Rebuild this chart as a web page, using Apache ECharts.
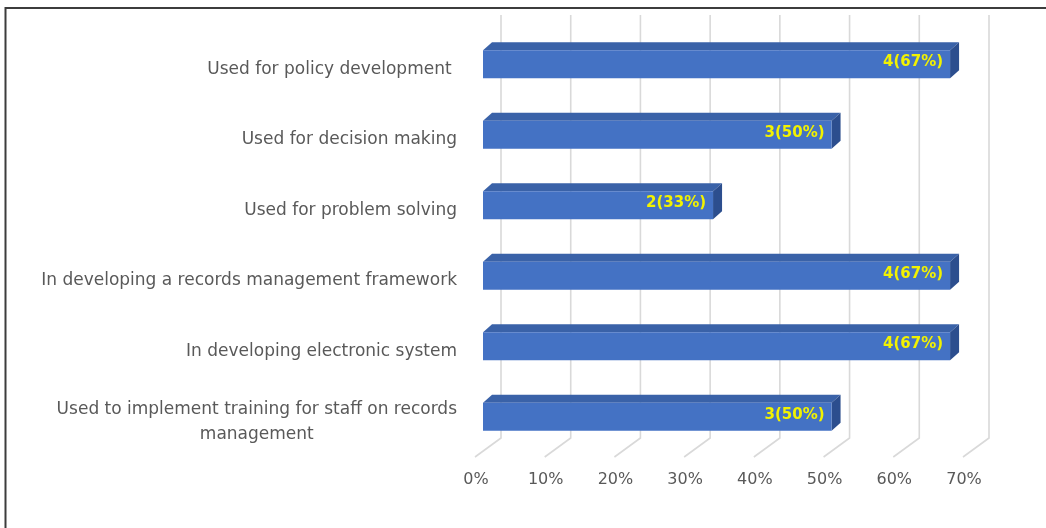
<!DOCTYPE html>
<html>
<head>
<meta charset="utf-8">
<script src="https://cdn.jsdelivr.net/npm/echarts@6/dist/echarts.min.js"></script>
<style>
  html, body { margin: 0; padding: 0; background: #ffffff; }
  #chart { width: 1046px; height: 528px; }
</style>
</head>
<body>
<div id="chart"></div>
<script>
// Uses of records (3D horizontal bars)
const categories = [
  'Used for policy development ',
  'Used for decision making',
  'Used for problem solving',
  'In developing a records management framework',
  'In developing electronic system',
  'Used to implement training for staff on records\nmanagement'
];
const counts = [4, 3, 2, 4, 4, 3];
const percents = [67, 50, 33, 67, 67, 50];
const ticks = [0, 10, 20, 30, 40, 50, 60, 70];

const TEXT_GREY = '#595959';
const GRID_GREY = '#D9D9D9';
const FRONT = '#4472C4';
const TOP = '#3A62A8';
const SIDE = '#2C4E8E';
const LABEL = '#F2F200';

// oblique projection: bars sit in the middle of the floor depth
const FRONT_DX = -18, FRONT_DY = 14;   // back wall -> bar front face
const DEPTH_DX = 9, DEPTH_DY = -8;     // bar front face -> bar back face
const FLOOR_DX = -26, FLOOR_DY = 19;   // back wall -> floor front edge

const chart = echarts.init(document.getElementById('chart'), null, { renderer: 'canvas' });

function renderGridLine(params, api) {
  const x = api.coord([api.value(0), 0])[0];
  const top = params.coordSys.y;
  const bottom = params.coordSys.y + params.coordSys.height;
  return {
    type: 'polyline',
    shape: { points: [[x, top], [x, bottom], [x + FLOOR_DX, bottom + FLOOR_DY]] },
    style: { stroke: GRID_GREY, lineWidth: 1.6, fill: null }
  };
}

function renderBar(params, api) {
  const v = api.value(0);
  const i = api.value(1);
  const p0 = api.coord([0, i]);
  const p1 = api.coord([v, i]);
  const band = api.size([0, 1])[1];
  const h = band * 0.397;
  const x0 = p0[0] + FRONT_DX;
  const x1 = p1[0] + FRONT_DX;
  const yc = p0[1] + FRONT_DY;
  const yt = yc - h / 2;
  const yb = yc + h / 2;
  const idx = params.dataIndex;
  return {
    type: 'group',
    children: [
      {
        type: 'polygon',
        shape: { points: [[x0, yt], [x0 + DEPTH_DX, yt + DEPTH_DY], [x1 + DEPTH_DX, yt + DEPTH_DY], [x1, yt]] },
        style: { fill: TOP }
      },
      {
        type: 'polygon',
        shape: { points: [[x1, yt], [x1 + DEPTH_DX, yt + DEPTH_DY], [x1 + DEPTH_DX, yb + DEPTH_DY], [x1, yb]] },
        style: { fill: SIDE }
      },
      {
        type: 'rect',
        shape: { x: x0, y: yt, width: x1 - x0, height: h },
        style: { fill: FRONT }
      },
      {
        type: 'text',
        style: {
          text: counts[idx] + '(' + percents[idx] + '%)',
          x: x1 - 7,
          y: yc - 2,
          align: 'right',
          verticalAlign: 'middle',
          fill: LABEL,
          fontFamily: 'DejaVu Sans',
          fontWeight: 'bold',
          fontSize: 15
        }
      }
    ]
  };
}

const option = {
  animation: false,
  backgroundColor: '#ffffff',
  graphic: [
    {
      type: 'rect',
      shape: { x: 5.5, y: 8, width: 1100, height: 600 },
      style: { fill: null, stroke: '#3c3c3c', lineWidth: 2 },
      z: 100
    }
  ],
  grid: [
    // back wall of the plot
    { left: 501, top: 15, width: 488, height: 423 },
    // floor front edge, carries the tick and category labels
    { left: 476, top: 34, width: 488, height: 423 }
  ],
  xAxis: [
    { gridIndex: 0, type: 'value', min: 0, max: 70, interval: 10, show: false },
    {
      gridIndex: 1, type: 'value', min: 0, max: 70, interval: 10,
      axisLine: { show: false }, axisTick: { show: false }, splitLine: { show: false },
      axisLabel: {
        formatter: '{value}%', color: TEXT_GREY, fontSize: 16,
        fontFamily: 'DejaVu Sans', margin: 15
      }
    }
  ],
  yAxis: [
    { gridIndex: 0, type: 'category', inverse: true, data: categories, show: false },
    {
      gridIndex: 1, type: 'category', inverse: true, data: categories,
      axisLine: { show: false }, axisTick: { show: false }, splitLine: { show: false },
      axisLabel: {
        color: TEXT_GREY, fontSize: 17, fontFamily: 'DejaVu Sans', margin: 19,
        lineHeight: 25,
        formatter: function (val) {
          if (val.indexOf('\n') < 0) return val;
          return val.split('\n').map(function (s) { return '{c|' + s + '}'; }).join('\n');
        },
        rich: {
          c: { align: 'center', color: TEXT_GREY, fontSize: 17, fontFamily: 'DejaVu Sans', lineHeight: 25 }
        }
      }
    }
  ],
  series: [
    {
      type: 'custom',
      xAxisIndex: 0, yAxisIndex: 0,
      renderItem: renderGridLine,
      encode: { x: 0, y: 1 },
      data: ticks.map(function (t) { return [t, 0]; }),
      z: 1, silent: true
    },
    {
      type: 'custom',
      xAxisIndex: 0, yAxisIndex: 0,
      renderItem: renderBar,
      encode: { x: 0, y: 1 },
      data: percents.map(function (p, i) { return [p, i]; }),
      z: 5, silent: true
    }
  ]
};

chart.setOption(option);
</script>
</body>
</html>
